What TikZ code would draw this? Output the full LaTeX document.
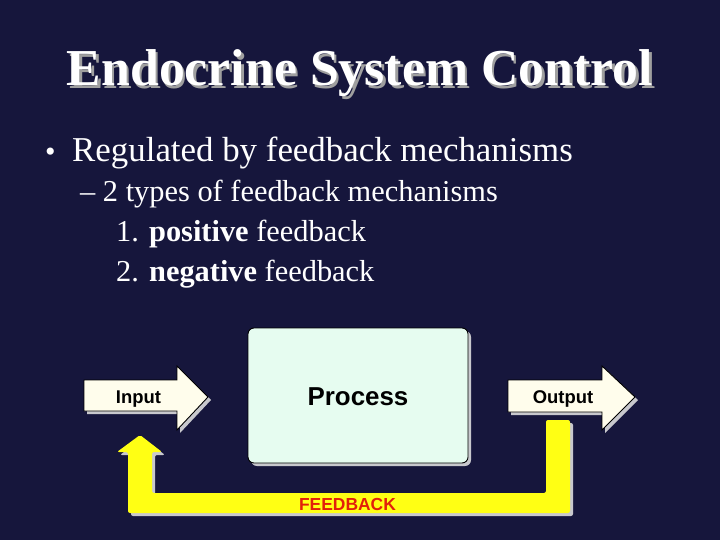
\documentclass[tikz,border=0pt]{standalone}
\usepackage{fontspec}
\setmainfont{Liberation Serif}
\newfontfamily\sansf{Liberation Sans}
\definecolor{bg}{RGB}{22,22,60}
\definecolor{mint}{RGB}{230,252,240}
\definecolor{cream}{RGB}{255,253,236}
\definecolor{fbyellow}{RGB}{255,255,20}
\definecolor{fbred}{RGB}{226,32,10}
\definecolor{shadowgray}{RGB}{200,200,205}
\tikzset{
  txt/.style={anchor=base west, inner sep=0pt, text=white},
  ctxt/.style={anchor=base, inner sep=0pt},
  boxline/.style={draw=black, line width=0.9bp},
  dropshadow/.style={fill=shadowgray},
}
\begin{document}
\begin{tikzpicture}[x=1bp,y=-1bp]
\useasboundingbox (0,0) rectangle (720,540);
\fill[bg] (0,0) rectangle (720,540);

% title with its drop shadow
\node[ctxt, text=gray!75] at (362.5,88.5) {\fontsize{52}{60}\selectfont\bfseries Endocrine System Control};
\node[ctxt, text=white] (title) at (360,86) {\fontsize{52}{60}\selectfont\bfseries Endocrine System Control};

% bullets
\node[txt] (bul) at (45,162) {\fontsize{30}{40}\selectfont\textbullet};
\node[txt] (l1) at (72,162) {\fontsize{35}{40}\selectfont Regulated by feedback mechanisms};
\node[txt] (l2) at (80,202) {\fontsize{30.5}{36}\selectfont -- 2 types of feedback mechanisms};
\node[txt] (l3) at (116,242) {\fontsize{30.5}{36}\selectfont 1. \textbf{positive} feedback};
\node[txt] (l4) at (116,282) {\fontsize{30.5}{36}\selectfont 2. \textbf{negative} feedback};

% feedback arrow (yellow)
\fill[dropshadow, rounded corners=2] (549,423) -- (573,423) -- (573,516) -- (131,516) -- (131,455) -- (120,455) -- (143,438) -- (165,455) -- (155,455) -- (155,496) -- (549,496) -- cycle;
\fill[fbyellow, rounded corners=2] (546,420) -- (570,420) -- (570,513) -- (128,513) -- (128,452) -- (117,452) -- (140,435) -- (162,452) -- (152,452) -- (152,493) -- (546,493) -- cycle;
\node[ctxt, text=fbred] (fb) at (347.5,510) {\sansf\bfseries\fontsize{17.5}{20}\selectfont FEEDBACK};

% process box
\fill[dropshadow, rounded corners=6] (251,331) rectangle (471,466);
\draw[boxline, fill=mint, rounded corners=6] (248,328) rectangle (468,463);
\node[ctxt] (proc) at (358,405) {\sansf\bfseries\fontsize{26}{30}\selectfont Process};

% input arrow
\fill[dropshadow] (87,383) -- (180,383) -- (180,369) -- (211,400) -- (180,433) -- (180,414) -- (87,414) -- cycle;
\draw[boxline, fill=cream, line join=miter] (84,380) -- (177,380) -- (177,366) -- (208,397) -- (177,430) -- (177,411) -- (84,411) -- cycle;
\node[ctxt] (in) at (138.5,403) {\sansf\bfseries\fontsize{18.5}{22}\selectfont Input};

% output arrow
\fill[dropshadow] (511,383) -- (605,383) -- (605,369) -- (638,400) -- (605,433) -- (605,415) -- (511,415) -- cycle;
\draw[boxline, fill=cream, line join=miter] (508,380) -- (602,380) -- (602,366) -- (635,397) -- (602,430) -- (602,412) -- (508,412) -- cycle;
\node[ctxt] (out) at (563,403) {\sansf\bfseries\fontsize{18.5}{22}\selectfont Output};
\end{tikzpicture}
\end{document}
